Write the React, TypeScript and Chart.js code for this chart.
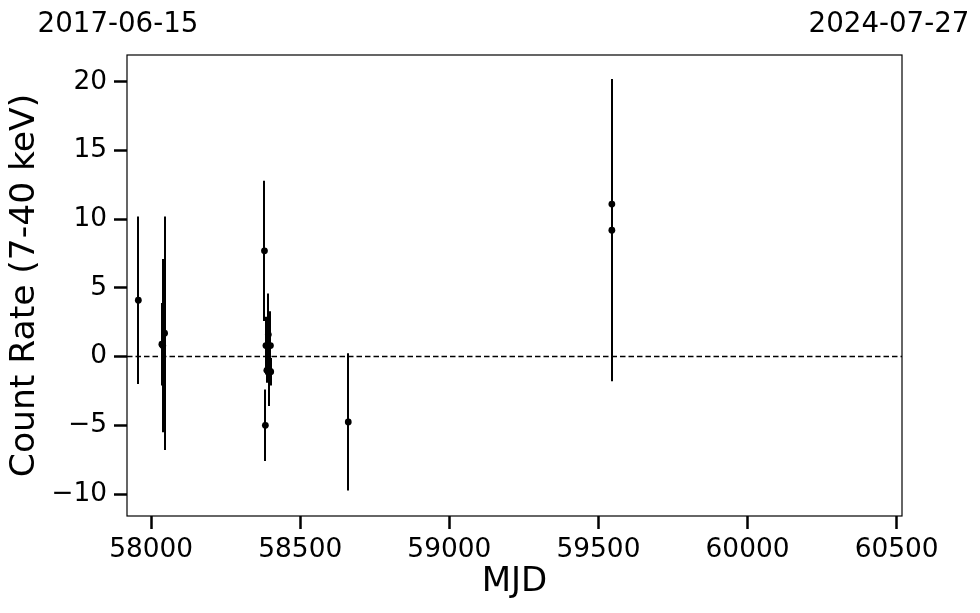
import React, { useEffect, useRef } from 'react';
import { Chart, registerables } from 'chart.js';
Chart.register(...registerables);

const mjd = [57957, 58036, 58039, 58045, 58380, 58383, 58385, 58388, 58393, 58396, 58400, 58401, 58661, 59545, 59545];
const rate = [4.1, 0.9, 0.8, 1.7, 7.7, -5.0, 0.8, -1.0, 1.6, -1.0, 0.8, -1.1, -4.75, 11.1, 9.2];
const rateErr = [6.1, 3.0, 6.3, 8.5, 5.1, 2.6, 2.1, 0.9, 3.0, 2.6, 2.5, 1.0, 5.0, 8.0, 11.0];
const xTicks = [58000, 58500, 59000, 59500, 60000, 60500];
const yTicks = [-10, -5, 0, 5, 10, 15, 20];
const xMin = 57919;
const xMax = 60518;
const yMin = -11.6;
const yMax = 21.95;
const startLabel = '2017-06-15';
const endLabel = '2024-07-27';
const xTitle = 'MJD';
const yTitle = 'Count Rate (7-40 keV)';

const FONT = "'DejaVu Sans', sans-serif";

const errorBars = {
  id: 'errorBars',
  beforeDatasetsDraw(chart: any) {
    const { ctx } = chart;
    const x = chart.scales.x;
    const y = chart.scales.y;
    ctx.save();
    ctx.strokeStyle = '#000';
    ctx.lineWidth = 2;
    mjd.forEach((m, i) => {
      const px = Math.round(x.getPixelForValue(m));
      const top = y.getPixelForValue(rate[i] + rateErr[i]);
      const bot = y.getPixelForValue(rate[i] - rateErr[i]);
      ctx.beginPath();
      ctx.moveTo(px, top);
      ctx.lineTo(px, bot);
      ctx.stroke();
    });
    ctx.restore();
  },
};

const frameAndDates = {
  id: 'frameAndDates',
  afterDraw(chart: any) {
    const { ctx, chartArea } = chart;
    ctx.save();
    ctx.strokeStyle = '#000';
    ctx.lineWidth = 1.2;
    ctx.strokeRect(chartArea.left, chartArea.top, chartArea.right - chartArea.left, chartArea.bottom - chartArea.top);
    ctx.fillStyle = '#000';
    ctx.font = `27.7px ${FONT}`;
    ctx.textAlign = 'center';
    ctx.textBaseline = 'alphabetic';
    ctx.fillText(startLabel, chartArea.left - 9, 32);
    ctx.fillText(endLabel, chartArea.right - 13, 32);
    ctx.restore();
  },
};

const fmt = (v: number) => (v < 0 ? '\u2212' + Math.abs(v) : String(v));

export default function App() {
  const ref = useRef<HTMLCanvasElement | null>(null);
  useEffect(() => {
    if (!ref.current) return;
    const chart = new Chart(ref.current, {
      type: 'scatter',
      data: {
        datasets: [
          {
            type: 'line',
            data: [
              { x: xMin, y: 0 },
              { x: xMax, y: 0 },
            ],
            borderColor: '#000',
            borderWidth: 1.5,
            borderDash: [5.5, 3],
            pointRadius: 0,
          } as any,
          {
            data: mjd.map((m, i) => ({ x: m, y: rate[i] })),
            backgroundColor: '#000',
            borderWidth: 0,
            pointRadius: 3.4,
          },
        ],
      },
      options: {
        animation: false,
        responsive: false,
        layout: { padding: { top: 55, right: 78, left: 0, bottom: 0 } },
        plugins: { legend: { display: false }, tooltip: { enabled: false } },
        scales: {
          x: {
            type: 'linear',
            min: xMin,
            max: xMax,
            afterBuildTicks: (s: any) => {
              s.ticks = xTicks.map((v) => ({ value: v }));
            },
            afterFit: (s: any) => {
              s.height = 97;
            },
            grid: { display: true, drawOnChartArea: false, drawTicks: true, tickLength: 13, tickWidth: 2.5, tickColor: '#000' },
            border: { display: false },
            ticks: { color: '#000', font: { family: FONT, size: 26.4 }, padding: 5, maxRotation: 0, callback: (v: any) => String(v) },
            title: { display: true, text: xTitle, color: '#000', font: { family: FONT, size: 34 }, padding: { top: 0, bottom: 10 } },
          },
          y: {
            type: 'linear',
            min: yMin,
            max: yMax,
            afterBuildTicks: (s: any) => {
              s.ticks = yTicks.map((v) => ({ value: v }));
            },
            afterFit: (s: any) => {
              s.width = 127;
            },
            grid: { display: true, drawOnChartArea: false, drawTicks: true, tickLength: 13, tickWidth: 2.5, tickColor: '#000' },
            border: { display: false },
            ticks: { color: '#000', font: { family: FONT, size: 26.4 }, padding: 7, callback: (v: any) => fmt(Number(v)) },
            title: { display: true, text: yTitle, color: '#000', font: { family: FONT, size: 34.5 }, padding: { top: 4, bottom: 0 } },
          },
        },
      },
      plugins: [errorBars, frameAndDates],
    } as any);
    return () => chart.destroy();
  }, []);
  return (
    <div style={{ position: 'absolute', left: 0, top: 0, width: 980, height: 613, background: '#fff' }}>
      <canvas ref={ref} width={980} height={613} style={{ display: 'block' }} />
    </div>
  );
}
